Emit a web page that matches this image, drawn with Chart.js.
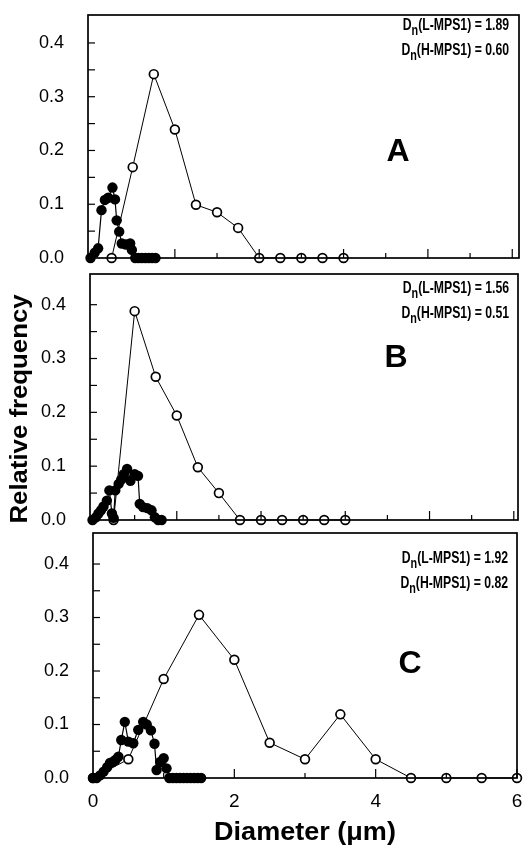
<!DOCTYPE html>
<html><head><meta charset="utf-8">
<script src="https://cdn.jsdelivr.net/npm/chart.js@4.4.0/dist/chart.umd.min.js"></script>
<style>
html,body{margin:0;padding:0;background:#fff;}
#wrap{position:relative;width:523px;height:849px;overflow:hidden;}
canvas{position:absolute;left:0;top:0;}
</style></head><body>
<div id="wrap">
<canvas id="cA" width="523" height="849"></canvas>
<canvas id="cB" width="523" height="849"></canvas>
<canvas id="cC" width="523" height="849"></canvas>
</div>
<script>
// ---- data ----
const yTickValues = [0, 0.1, 0.2, 0.3, 0.4];
const xTickValuesC = [0, 2, 4, 6];
const xTickValuesAB = [1, 2, 3, 4, 5];
const panelLetters = ['A', 'B', 'C'];
const dnLabelL = ['1.89', '1.56', '1.92'];
const dnLabelH = ['0.60', '0.51', '0.82'];
const yTitle = 'Relative frequency';
const xTitle = 'Diameter (\u03bcm)';

// Panel A
const aLx = [0.25, 0.5, 0.75, 1.0, 1.25, 1.5, 1.75, 2.0, 2.25, 2.5, 2.75, 3.0];
const aLy = [0, 0.169, 0.342, 0.239, 0.099, 0.085, 0.056, 0, 0, 0, 0, 0];
const aHx = [0, 0.05, 0.09, 0.13, 0.17, 0.21, 0.26, 0.29, 0.31, 0.34, 0.37, 0.42, 0.47, 0.49, 0.53, 0.57, 0.61, 0.65, 0.69, 0.73, 0.77];
const aHy = [0, 0.01, 0.018, 0.089, 0.108, 0.112, 0.131, 0.109, 0.07, 0.049, 0.027, 0.025, 0.027, 0.015, 0, 0, 0, 0, 0, 0, 0];

// Panel B
const bLx = [0.25, 0.5, 0.75, 1.0, 1.25, 1.5, 1.75, 2.0, 2.25, 2.5, 2.75, 3.0];
const bLy = [0, 0.388, 0.266, 0.194, 0.098, 0.05, 0, 0, 0, 0, 0, 0];
const bHx = [0, 0.04, 0.07, 0.1, 0.13, 0.17, 0.2, 0.23, 0.25, 0.27, 0.31, 0.34, 0.37, 0.41, 0.45, 0.5, 0.54, 0.56, 0.6, 0.65, 0.7, 0.74, 0.78, 0.82];
const bHy = [0, 0.005, 0.012, 0.018, 0.025, 0.036, 0.055, 0.012, 0.004, 0.055, 0.067, 0.075, 0.085, 0.095, 0.073, 0.085, 0.082, 0.03, 0.024, 0.022, 0.018, 0.005, 0, 0];

// Panel C
const cLx = [0, 0.5, 1.0, 1.5, 2.0, 2.5, 3.0, 3.5, 4.0, 4.5, 5.0, 5.5, 6.0];
const cLy = [0, 0.035, 0.185, 0.305, 0.221, 0.066, 0.035, 0.119, 0.035, 0, 0, 0, 0];
const cHx = [0, 0.05, 0.1, 0.15, 0.2, 0.24, 0.28, 0.32, 0.36, 0.4, 0.45, 0.5, 0.57, 0.64, 0.71, 0.76, 0.82, 0.87, 0.9, 0.95, 1.0, 1.04, 1.08, 1.13, 1.18, 1.23, 1.28, 1.33, 1.38, 1.43, 1.48, 1.53];
const cHy = [0, 0, 0.005, 0.012, 0.02, 0.028, 0.03, 0.034, 0.04, 0.071, 0.105, 0.068, 0.065, 0.09, 0.105, 0.1, 0.089, 0.064, 0.015, 0.03, 0.037, 0.018, 0, 0, 0, 0, 0, 0, 0, 0, 0, 0];

// ---- layout (pixels) ----
const W = 523, H = 849;
const FONT = '"Liberation Sans", Arial, sans-serif';
const geoms = [
  {left: 88, right: 519, top: 15, bottom: 258, xmin: -0.03, xmax: 5.08, ymax: 0.452, xh: 10,
   letter: [398, 152], dn: [509, 30, 55]},
  {left: 90, right: 518, top: 274, bottom: 520, xmin: -0.03, xmax: 5.05, ymax: 0.457, xh: 10,
   letter: [396, 358], dn: [509, 293, 318]},
  {left: 93, right: 517, top: 533, bottom: 778, xmin: 0, xmax: 6, ymax: 0.458, xh: 60,
   letter: [410, 664], dn: [508, 563, 588]}
];

function pts(xs, ys) { return xs.map((x, i) => ({x: x, y: ys[i]})); }

function drawDn(ctx, xRight, yBase, name, val) {
  // "D" + subscript "n" + rest, condensed bold like the reference
  ctx.save();
  const sx = 0.72;
  ctx.translate(xRight, yBase);
  ctx.scale(sx, 1);
  ctx.fillStyle = '#000';
  ctx.textBaseline = 'alphabetic';
  const big = 'bold 17px ' + FONT;
  const small = 'bold 15px ' + FONT;
  const rest = '(' + name + ') = ' + val;
  ctx.font = big; const wRest = ctx.measureText(rest).width; const wD = ctx.measureText('D').width;
  ctx.font = small; const wN = ctx.measureText('n').width;
  let x = -(wRest + wD + wN);
  ctx.font = big; ctx.textAlign = 'left';
  ctx.fillText('D', x, 0); x += wD;
  ctx.font = small; ctx.fillText('n', x, 5); x += wN;
  ctx.font = big; ctx.fillText(rest, x, 0);
  ctx.restore();
}

function makeDeco(idx) {
  return {
    id: 'deco' + idx,
    afterDraw(chart) {
      const g = geoms[idx];
      const ctx = chart.ctx;
      const ca = chart.chartArea;
      const xs = chart.scales.x, ys = chart.scales.y;
      ctx.save();
      ctx.strokeStyle = '#000';
      // frame
      ctx.lineWidth = 1.7;
      ctx.strokeRect(ca.left, ca.top, ca.right - ca.left, ca.bottom - ca.top);
      // y ticks (inward)
      ctx.lineWidth = 1.2;
      for (let k = 1; k <= 8; k++) {
        const y = ys.getPixelForValue(k * 0.05);
        ctx.beginPath(); ctx.moveTo(ca.left, y); ctx.lineTo(ca.left + 7, y); ctx.stroke();
      }
      // x ticks (inward)
      const step = idx === 2 ? 1 : 0.5;
      const xmaxT = idx === 2 ? 6 : 5;
      for (let v = step; v <= xmaxT + 1e-9; v += step) {
        const x = xs.getPixelForValue(v);
        const major = idx === 2 ? (Math.round(v) % 2 === 0) : (Math.abs(v - Math.round(v)) < 1e-6);
        const len = major ? 9 : 5;
        ctx.beginPath(); ctx.moveTo(x, ca.bottom); ctx.lineTo(x, ca.bottom - len); ctx.stroke();
      }
      // panel letter
      ctx.fillStyle = '#000';
      ctx.font = 'bold 32px ' + FONT;
      ctx.textAlign = 'center'; ctx.textBaseline = 'middle';
      ctx.fillText(panelLetters[idx], g.letter[0], g.letter[1]);
      // Dn annotations
      drawDn(ctx, g.dn[0], g.dn[1], 'L-MPS1', dnLabelL[idx]);
      drawDn(ctx, g.dn[0], g.dn[2], 'H-MPS1', dnLabelH[idx]);
      // shared axis titles
      if (idx === 1) {
        ctx.save();
        ctx.translate(21, 409);
        ctx.rotate(-Math.PI / 2);
        ctx.scale(1.12, 1);
        ctx.font = 'bold 23px ' + FONT;
        ctx.textAlign = 'center'; ctx.textBaseline = 'middle';
        ctx.fillText(yTitle, 0, 0);
        ctx.restore();
      }
      if (idx === 2) {
        ctx.save();
        ctx.translate((ca.left + ca.right) / 2, 840);
        ctx.scale(1.04, 1);
        ctx.font = 'bold 26px ' + FONT;
        ctx.textAlign = 'center'; ctx.textBaseline = 'alphabetic';
        ctx.fillText(xTitle, 0, 0);
        ctx.restore();
      }
      ctx.restore();
    }
  };
}

function makePanel(id, idx, lx, ly, hx, hy) {
  const g = geoms[idx];
  const isC = idx === 2;
  new Chart(document.getElementById(id), {
    type: 'scatter',
    data: {
      datasets: [
        {label: 'L-MPS1', data: pts(lx, ly), showLine: true, borderColor: '#000', borderWidth: 1,
         pointRadius: 4.4, pointBackgroundColor: '#fff', pointBorderColor: '#000', pointBorderWidth: 1.7,
         clip: false, order: 2},
        {label: 'H-MPS1', data: pts(hx, hy), showLine: true, borderColor: '#000', borderWidth: 1.2,
         pointRadius: 5.2, pointBackgroundColor: '#000', pointBorderColor: '#000', pointBorderWidth: 0,
         clip: false, order: 1}
      ]
    },
    options: {
      responsive: false, animation: false, devicePixelRatio: 1,
      layout: {autoPadding: false, padding: {left: 0, top: g.top, right: W - g.right, bottom: H - g.bottom - g.xh}},
      plugins: {legend: {display: false}, tooltip: {enabled: false}, title: {display: false}},
      scales: {
        x: {
          type: 'linear', min: g.xmin, max: g.xmax,
          afterFit: s => { s.height = g.xh; s.paddingLeft = 0; s.paddingRight = 0; },
          afterBuildTicks: s => { s.ticks = (isC ? xTickValuesC : xTickValuesAB).map(v => ({value: v})); },
          grid: {display: false, drawTicks: false}, border: {display: false},
          ticks: {display: isC, autoSkip: false, maxRotation: 0, color: '#000', padding: 12,
                  font: {family: FONT, size: 19},
                  callback: v => String(v)}
        },
        y: {
          type: 'linear', min: 0, max: g.ymax,
          afterFit: s => { s.width = g.left; s.paddingTop = 0; s.paddingBottom = 0; },
          afterBuildTicks: s => { s.ticks = yTickValues.map(v => ({value: v})); },
          grid: {display: false, drawTicks: false}, border: {display: false},
          ticks: {autoSkip: false, color: '#000', padding: 24,
                  font: {family: FONT, size: 18},
                  callback: v => Number(v).toFixed(1)}
        }
      }
    },
    plugins: [makeDeco(idx)]
  });
}

makePanel('cA', 0, aLx, aLy, aHx, aHy);
makePanel('cB', 1, bLx, bLy, bHx, bHy);
makePanel('cC', 2, cLx, cLy, cHx, cHy);
</script>
</body></html>
